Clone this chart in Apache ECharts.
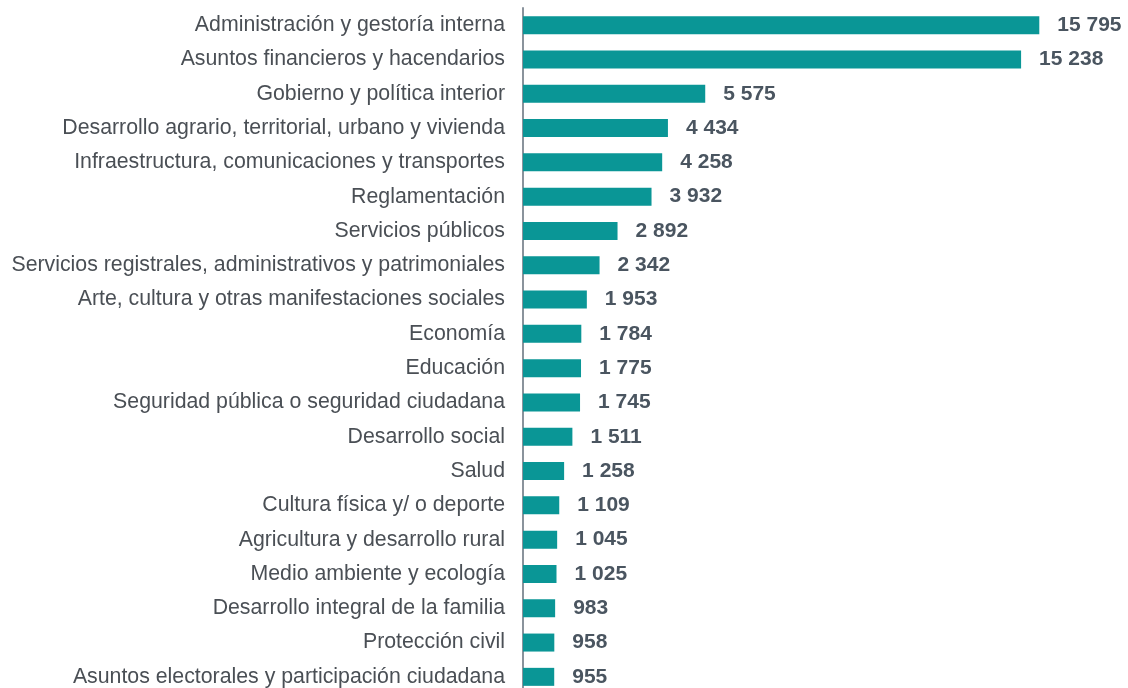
<!DOCTYPE html>
<html>
<head>
<meta charset="utf-8">
<script src="https://cdn.jsdelivr.net/npm/echarts@6/dist/echarts.min.js"></script>
<style>
  html, body { margin: 0; padding: 0; background: #fff; }
  #chart { width: 1128px; height: 688px; }
</style>
</head>
<body>
<div id="chart"></div>
<script>
var categories = [
  'Administración y gestoría interna',
  'Asuntos financieros y hacendarios',
  'Gobierno y política interior',
  'Desarrollo agrario, territorial, urbano y vivienda',
  'Infraestructura, comunicaciones y transportes',
  'Reglamentación',
  'Servicios públicos',
  'Servicios registrales, administrativos y patrimoniales',
  'Arte, cultura y otras manifestaciones sociales',
  'Economía',
  'Educación',
  'Seguridad pública o seguridad ciudadana',
  'Desarrollo social',
  'Salud',
  'Cultura física y/ o deporte',
  'Agricultura y desarrollo rural',
  'Medio ambiente y ecología',
  'Desarrollo integral de la familia',
  'Protección civil',
  'Asuntos electorales y participación ciudadana'
];
var values = [15795, 15238, 5575, 4434, 4258, 3932, 2892, 2342, 1953, 1784,
  1775, 1745, 1511, 1258, 1109, 1045, 1025, 983, 958, 955];

function fmt(v) {
  return String(v).replace(/\B(?=(\d{3})+(?!\d))/g, ' ');
}

document.addEventListener("DOMContentLoaded", () => {
  echarts.init(document.querySelector("#chart")).setOption({
    animation: false,
    grid: {
      left: 523,
      width: 523,
      top: 8,
      height: 686,
      containLabel: false,
      outerBoundsMode: 'none'
    },
    xAxis: {
      type: 'value',
      min: 0,
      max: 16000,
      show: false
    },
    yAxis: {
      type: 'category',
      inverse: true,
      data: categories,
      axisLine: { lineStyle: { color: '#8a939c', width: 2 } },
      axisTick: { show: false },
      axisLabel: {
        margin: 18,
        fontFamily: 'Liberation Sans, Arial, sans-serif',
        fontSize: 21.3,
        color: '#4a4f55'
      }
    },
    series: [{
      type: 'bar',
      data: values,
      barWidth: 18,
      itemStyle: { color: '#0a9696' },
      label: {
        show: true,
        position: 'right',
        distance: 18,
        fontFamily: 'Liberation Sans, Arial, sans-serif',
        fontSize: 21,
        fontWeight: 'bold',
        color: '#4a5560',
        formatter: p => fmt(p.value)
      }
    }]
  });
});
</script>
</body>
</html>
